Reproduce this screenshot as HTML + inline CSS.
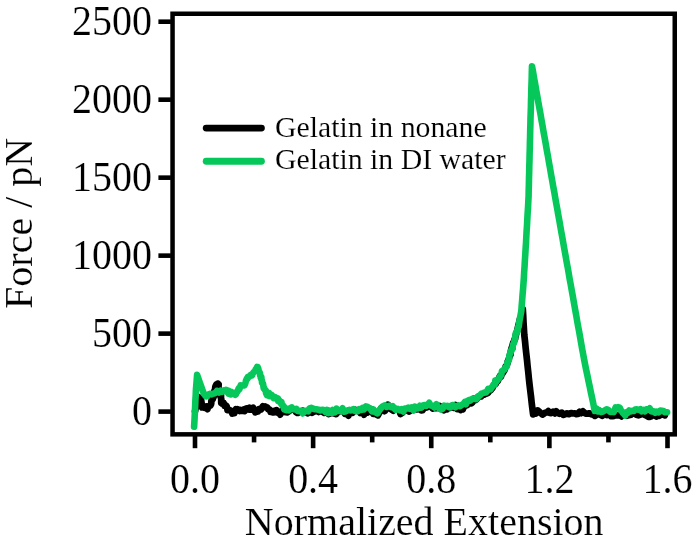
<!DOCTYPE html>
<html><head><meta charset="utf-8"><title>Force vs Normalized Extension</title>
<style>
html,body{margin:0;padding:0;background:#fff;}
body{width:695px;height:545px;overflow:hidden;}
svg{display:block;}
text{font-family:"Liberation Serif",serif;fill:#000;stroke:#fff;stroke-width:0.15px;}
#w{width:695px;height:545px;will-change:transform;background:#fff;}
.t40{font-size:40px;}
.t30{font-size:29.8px;}
</style></head><body>
<div id="w">
<svg width="695" height="545" viewBox="0 0 695 545">
<rect x="0" y="0" width="695" height="545" fill="#fff"/>
<polyline fill="none" stroke="#000" stroke-width="6.7" stroke-linejoin="round" stroke-linecap="round" points="195.0,411.5 196.5,404.0 198.5,397.0 200.9,398.5 201.6,403.0 202.2,407.5 203.4,406.8 204.5,406.9 205.0,407.8 206.3,406.5 207.5,409.2 207.9,407.0 208.9,406.0 209.7,405.9 210.4,405.5 211.1,404.0 211.3,403.0 211.3,401.5 211.5,400.6 212.4,399.6 212.8,399.0 213.0,398.3 213.2,396.3 213.6,397.3 213.9,395.2 214.3,395.1 214.2,392.9 214.3,390.9 214.6,390.4 215.0,389.3 215.1,389.1 215.3,386.8 215.6,386.1 216.5,384.3 217.5,384.4 217.7,383.6 218.0,384.8 218.7,384.4 218.5,386.3 218.8,388.7 219.2,389.8 219.8,391.6 219.8,392.6 220.1,391.3 220.1,392.0 220.6,394.2 220.4,396.0 221.0,395.3 221.0,398.4 221.3,399.3 221.2,399.2 221.2,402.7 221.2,402.2 222.1,403.5 222.9,402.8 223.6,402.8 224.6,405.9 225.3,405.8 226.2,405.6 226.9,406.9 227.5,410.1 228.5,410.0 229.4,410.3 230.3,410.4 230.6,410.5 231.6,411.1 232.3,413.6 233.2,413.3 234.4,413.1 234.9,411.0 235.8,409.3 236.5,410.0 237.4,409.1 238.8,409.9 239.6,410.9 240.5,409.9 241.8,410.9 242.9,411.0 243.8,409.5 244.7,411.1 245.5,409.1 246.6,408.3 247.7,408.9 248.7,409.5 249.6,407.8 250.6,409.5 251.5,408.4 252.4,408.3 253.1,407.7 253.9,410.2 254.5,410.0 255.3,412.3 256.3,410.1 257.2,411.6 258.0,411.5 259.0,409.1 260.3,409.6 261.0,409.6 262.2,407.5 262.9,406.3 264.2,407.1 265.1,406.4 266.3,407.0 267.4,407.5 268.2,409.3 269.4,409.5 270.1,410.3 270.5,411.8 271.3,410.9 272.1,412.1 272.9,412.5 273.8,412.5 275.1,410.7 276.1,410.9 276.7,410.2 277.6,412.6 278.1,411.8 279.2,413.6 279.8,413.6 280.2,414.7 281.0,412.9 281.9,412.4 282.4,411.9 282.9,409.9 283.5,409.3 284.0,408.9 285.3,412.1 286.3,410.3 287.4,412.3 289.4,410.9 291.1,409.3 293.1,409.6 294.6,409.4 295.8,411.9 297.4,413.0 298.5,412.6 299.9,411.6 301.0,411.5 302.6,410.7 303.9,412.2 305.2,411.7 307.6,413.3 309.7,411.3 311.0,412.1 312.0,412.9 313.9,411.5 315.0,411.4 316.4,410.3 318.5,412.0 320.3,411.1 321.7,411.2 322.6,411.9 324.2,412.8 325.4,411.5 326.9,412.1 328.4,414.0 329.9,413.5 331.7,413.0 333.5,411.4 334.7,413.6 336.0,414.1 338.0,412.0 339.8,411.2 342.0,410.4 343.9,411.4 345.0,413.8 346.5,413.3 348.4,415.6 349.6,413.0 351.4,412.0 352.5,412.8 353.8,411.2 354.9,409.7 356.7,410.8 357.9,411.0 359.6,411.3 360.4,413.0 362.5,410.9 364.1,414.7 365.4,411.8 367.4,412.7 369.0,410.8 370.0,410.5 371.7,409.3 372.4,412.1 373.2,413.8 374.2,413.7 376.1,414.3 377.9,415.3 378.8,413.7 379.5,412.4 380.2,410.1 381.4,408.0 382.9,408.5 384.7,411.1 386.5,408.8 388.0,404.6 389.6,408.1 391.0,409.2 393.3,410.7 395.0,408.7 396.5,409.6 398.2,410.0 399.5,410.7 400.5,414.1 401.9,413.1 403.8,411.1 405.3,410.4 406.7,409.2 409.1,411.5 411.2,410.0 413.0,409.5 415.0,409.2 416.5,409.5 418.2,409.1 419.5,409.1 421.2,410.5 422.4,410.3 424.1,407.8 425.3,407.6 426.9,407.4 428.1,405.6 429.6,405.3 431.1,406.6 432.6,408.5 434.4,407.9 436.7,408.2 437.8,406.9 439.6,405.9 441.0,409.0 442.3,408.9 443.9,410.3 445.9,408.6 447.0,409.2 448.3,407.7 449.7,408.0 451.4,406.9 453.8,407.8 455.5,405.1 457.3,409.1 458.7,406.0 460.7,409.9 461.9,408.2 462.8,409.3 463.9,406.9 464.9,405.9 466.1,402.3 467.2,405.2 468.5,401.5 469.9,402.8 471.3,403.3 472.4,402.4 473.5,400.1 474.0,398.8 475.2,400.1 476.5,399.3 478.2,396.6 479.5,396.5 481.3,396.4 482.5,394.9 483.9,394.7 485.2,394.0 486.8,393.6 488.1,392.7 489.1,391.1 490.9,390.1 491.5,388.9 492.5,388.0 493.1,386.2 494.5,384.5 495.8,383.8 496.5,380.6 497.8,381.1 498.8,378.6 499.9,376.0 501.0,376.5 501.9,373.7 502.4,373.8 503.1,372.1 504.3,370.7 504.8,369.2 505.6,366.7 506.3,366.0 506.9,364.9 507.5,363.0 507.6,361.9 508.3,360.3 508.7,359.4 509.6,356.1 509.9,355.6 510.6,354.6 510.9,350.8 511.5,348.3 512.2,348.9 512.2,346.3 513.1,343.3 513.2,342.7 513.9,341.7 514.5,339.5 515.0,339.4 515.5,336.3 517.2,330.4 518.6,324.5 520.0,318.7 521.6,318.0 522.2,313.5 522.8,309.0 523.2,315.5 523.5,322.0 523.9,328.5 524.3,335.0 525.0,341.2 525.6,347.5 526.3,353.8 527.0,360.0 527.6,366.2 528.3,372.5 528.9,378.8 529.6,385.0 530.3,390.8 531.0,396.5 531.6,402.2 532.3,408.0 533.1,414.4 534.1,412.5 535.8,413.6 536.9,412.6 537.7,410.4 539.2,411.6 540.8,413.2 542.5,414.5 543.7,413.8 545.0,412.8 546.8,412.4 548.2,411.1 549.9,412.9 551.2,413.1 553.0,411.8 554.7,413.4 556.2,411.2 557.7,412.8 559.5,413.8 561.9,412.6 563.4,414.9 565.5,414.1 567.0,413.3 568.8,414.2 571.0,413.0 572.5,413.5 574.8,413.4 576.4,414.1 577.9,414.0 579.5,411.9 581.2,413.2 583.0,411.4 585.1,413.3 586.1,413.7 587.8,413.7 589.3,413.3 590.3,413.6 591.5,414.3 593.2,414.5 594.9,415.9 596.3,415.0 597.8,414.4 599.4,413.2 601.2,415.3 602.4,415.7 603.7,412.6 605.1,413.3 606.9,415.0 608.1,414.6 609.3,413.9 611.0,416.1 612.6,416.2 614.1,416.0 615.6,415.1 617.8,415.5 619.6,414.7 621.4,416.4 622.8,413.8 623.7,414.1 625.4,413.4 627.1,415.7 628.2,415.2 629.6,415.1 631.0,414.7 632.9,413.1 634.6,413.0 636.5,414.8 638.4,415.3 640.6,414.6 641.7,413.8 643.5,414.3 645.1,415.1 646.8,415.7 648.3,416.8 650.1,416.8 651.6,416.1 652.7,415.5 654.7,414.8 656.5,416.5 658.2,415.0 659.3,415.8 660.8,414.8 662.8,414.2 664.8,415.3"/>
<polyline fill="none" stroke="#06c85a" stroke-width="6.6" stroke-linejoin="round" stroke-linecap="round" points="194.1,426.8 194.6,418.0 194.9,411.5 195.2,405.0 195.4,400.0 195.7,395.0 195.9,390.0 196.3,384.9 196.7,379.9 197.1,374.8 200.0,383.0 202.8,390.8 203.2,391.9 203.8,393.9 203.9,393.7 204.9,394.8 205.5,396.0 206.2,396.4 207.4,396.0 208.2,394.6 209.5,394.1 210.6,393.7 211.7,394.3 212.6,393.8 213.8,393.6 214.6,393.4 215.8,392.5 217.0,390.8 217.7,390.9 219.0,392.5 219.6,391.5 220.6,390.6 221.9,391.8 222.8,390.8 223.9,390.4 225.1,391.2 226.2,389.9 227.5,390.6 228.4,393.5 229.1,390.9 230.7,394.4 231.5,392.0 232.9,393.9 233.9,393.9 235.2,394.8 235.8,394.3 236.0,394.3 236.4,392.9 237.4,390.9 237.5,391.7 238.4,389.2 238.7,388.4 239.4,389.2 240.6,385.4 241.2,386.2 241.7,386.0 242.9,385.3 243.5,385.2 244.5,385.4 245.3,383.3 245.5,382.6 246.0,380.5 246.5,379.4 247.0,378.3 247.3,379.1 247.9,377.0 248.9,376.7 249.5,376.7 250.3,375.3 251.2,374.7 252.1,375.2 252.6,373.6 253.8,372.2 254.4,371.6 255.0,371.3 255.7,369.3 256.4,368.7 257.1,366.9 257.7,367.0 258.0,368.2 258.4,368.9 258.8,371.4 259.2,371.7 259.7,372.5 260.0,373.5 260.1,375.2 260.7,376.0 260.7,377.5 261.4,377.4 261.4,379.4 261.6,380.1 262.0,380.4 262.0,382.5 262.2,382.3 262.9,383.4 263.2,384.8 263.4,386.2 263.6,387.6 263.7,388.2 264.3,388.1 264.8,389.9 265.3,390.0 266.0,390.9 266.0,392.9 266.9,395.1 268.0,394.1 269.0,393.0 269.6,396.1 270.9,395.9 271.8,395.1 272.7,396.8 273.6,398.1 275.1,397.2 275.7,397.8 277.3,399.5 278.0,398.6 278.2,401.0 279.3,400.4 280.0,402.1 280.7,403.2 281.4,401.9 282.0,405.3 283.1,405.5 284.2,409.3 285.0,407.6 286.2,410.1 287.7,410.0 289.0,410.4 290.4,408.0 291.9,407.4 293.1,409.3 294.7,409.5 296.4,408.8 297.6,411.0 299.4,411.1 301.1,410.9 302.9,413.4 304.8,410.8 306.4,411.0 308.2,411.4 309.5,408.4 311.2,407.9 313.0,408.6 314.6,409.2 316.4,409.3 318.4,409.7 320.3,410.4 322.0,409.7 323.6,410.0 325.4,411.9 327.0,409.9 328.2,413.1 329.5,410.8 331.1,412.8 332.7,410.0 333.6,412.6 334.9,412.4 336.5,408.6 338.1,410.8 339.7,411.1 341.1,410.3 342.5,408.3 343.7,411.7 345.6,411.4 347.4,410.4 349.3,409.9 351.0,410.5 353.4,409.1 355.1,411.0 356.7,411.1 358.2,411.1 359.2,409.1 361.1,409.9 362.4,408.0 364.0,409.2 365.8,406.4 367.3,406.7 368.9,407.7 370.7,409.1 372.0,411.4 373.4,409.4 375.3,412.1 377.5,413.4 378.5,411.4 380.1,409.3 381.6,407.4 382.9,406.2 385.0,405.3 386.8,407.0 389.1,405.7 391.0,407.1 392.7,406.1 394.0,408.3 395.9,409.9 397.8,408.9 399.9,410.4 401.4,409.3 403.4,411.5 404.8,408.5 406.4,408.6 408.2,407.6 409.9,408.8 411.4,407.6 413.6,410.4 414.9,406.6 416.7,408.4 418.1,408.4 419.8,405.8 421.4,407.6 423.2,405.4 424.3,405.0 426.3,405.9 428.0,404.2 429.2,402.8 430.8,405.6 432.7,406.0 434.2,407.4 436.3,404.3 437.9,406.5 439.3,408.8 441.0,409.5 442.7,408.7 444.1,405.7 445.9,406.3 447.4,405.8 449.1,407.2 450.5,407.4 451.6,405.4 453.1,405.0 455.3,407.3 457.0,406.1 458.4,405.4 460.1,406.2 462.6,404.3 463.5,403.8 465.0,401.9 466.0,404.2 467.1,401.4 468.8,400.1 470.1,400.7 471.5,399.2 473.0,398.6 474.7,399.0 476.1,399.1 477.9,396.9 479.9,395.3 481.6,393.6 483.3,393.0 484.3,392.6 485.9,392.5 487.2,391.0 488.2,388.8 489.7,389.2 490.4,389.4 492.1,386.8 492.7,386.1 493.8,384.2 494.8,384.2 495.3,380.7 496.4,381.9 497.8,379.6 498.9,378.4 499.6,376.9 500.7,375.8 501.4,374.5 502.0,370.9 503.1,370.4 504.0,369.9 505.0,368.3 505.4,367.6 506.8,366.4 507.3,362.5 508.0,361.5 508.7,360.7 509.1,359.1 509.3,356.9 509.5,354.7 510.5,353.3 510.8,352.0 511.3,349.9 511.6,349.6 512.4,348.6 512.9,345.1 513.7,343.2 514.1,342.7 514.5,340.3 514.7,339.9 515.1,337.7 515.7,333.6 516.4,333.6 516.9,332.3 517.2,330.4 517.7,330.7 518.0,326.9 518.7,326.8 519.4,321.0 520.4,316.0 521.3,311.0 521.7,305.4 522.2,299.8 522.6,294.2 523.1,288.6 523.5,283.0 523.9,277.3 524.2,271.6 524.6,265.9 524.9,260.1 525.3,254.4 525.6,248.7 526.0,243.0 526.3,237.1 526.6,231.2 527.0,225.4 527.3,219.5 527.6,213.6 528.0,207.8 528.3,201.9 528.6,196.0 528.7,190.0 528.9,184.0 529.0,178.0 529.2,172.0 529.3,166.0 529.5,160.0 529.6,154.0 529.8,148.0 529.9,142.0 530.1,136.0 530.2,130.0 530.4,124.2 530.5,118.4 530.7,112.6 530.9,106.8 531.0,101.0 531.2,95.2 531.3,89.4 531.5,83.6 531.7,77.8 531.8,72.0 532.0,66.2 533.1,72.2 534.1,78.2 535.2,84.2 536.2,90.2 537.3,96.1 538.3,102.1 539.4,108.1 540.5,114.1 541.5,120.1 542.6,126.1 543.6,132.1 544.7,138.1 545.8,144.1 546.8,150.1 547.9,156.0 548.9,162.0 550.0,168.0 551.0,174.0 552.1,180.0 553.1,185.8 554.2,191.7 555.2,197.5 556.2,203.3 557.3,209.2 558.3,215.0 559.4,220.8 560.4,226.7 561.4,232.5 562.5,238.3 563.5,244.2 564.5,250.0 565.6,255.8 566.6,261.7 567.7,267.5 568.7,273.3 569.7,279.2 570.8,285.0 571.8,290.8 572.9,296.7 573.9,302.5 574.9,308.3 576.0,314.2 577.0,320.0 578.0,325.7 579.1,331.4 580.1,337.1 581.1,342.9 582.1,348.6 583.2,354.3 584.2,360.0 585.2,365.0 586.2,370.0 587.4,375.5 588.5,381.0 589.7,386.5 590.8,392.0 592.0,397.5 593.4,404.1 594.7,410.8 596.3,408.4 597.7,411.4 599.3,410.2 601.1,412.1 603.0,411.6 604.7,410.5 606.6,409.3 608.6,410.3 610.3,412.0 612.4,411.8 613.8,412.1 615.6,407.5 616.6,408.5 618.2,407.1 618.8,407.4 619.8,407.8 620.8,410.3 621.7,411.0 622.9,412.9 624.1,414.1 625.2,415.6 626.9,412.1 627.7,412.7 629.1,410.5 631.0,411.4 632.3,410.7 633.7,411.0 635.3,409.5 636.8,409.3 638.9,409.9 640.3,409.2 641.8,411.3 643.4,410.0 645.1,411.3 646.6,409.2 648.5,409.5 649.7,408.3 651.5,411.5 653.0,411.1 655.1,412.8 656.4,411.6 658.5,412.3 660.3,410.5 661.7,410.9 663.6,411.1 665.1,412.3 667.1,412.2"/>
<rect x="172.55" y="13.75" width="502.20" height="420.60" fill="none" stroke="#000" stroke-width="4.50"/>
<rect x="158.4" y="409.30" width="12.5" height="4.6" fill="#000"/>
<text transform="translate(152,425.00) scale(1,1.06)" text-anchor="end" class="t40">0</text>
<rect x="158.4" y="331.32" width="12.5" height="4.6" fill="#000"/>
<text transform="translate(152,347.02) scale(1,1.06)" text-anchor="end" class="t40">500</text>
<rect x="158.4" y="253.34" width="12.5" height="4.6" fill="#000"/>
<text transform="translate(152,269.04) scale(1,1.06)" text-anchor="end" class="t40">1000</text>
<rect x="158.4" y="175.36" width="12.5" height="4.6" fill="#000"/>
<text transform="translate(152,191.06) scale(1,1.06)" text-anchor="end" class="t40">1500</text>
<rect x="158.4" y="97.38" width="12.5" height="4.6" fill="#000"/>
<text transform="translate(152,113.08) scale(1,1.06)" text-anchor="end" class="t40">2000</text>
<rect x="158.4" y="19.40" width="12.5" height="4.6" fill="#000"/>
<text transform="translate(152,35.10) scale(1,1.06)" text-anchor="end" class="t40">2500</text>
<rect x="192.70" y="436" width="4.6" height="12.2" fill="#000"/>
<text transform="translate(195.00,492.7) scale(1,1.06)" text-anchor="middle" class="t40">0.0</text>
<rect x="251.76" y="436" width="4.6" height="6.4" fill="#000"/>
<rect x="310.82" y="436" width="4.6" height="12.2" fill="#000"/>
<text transform="translate(313.12,492.7) scale(1,1.06)" text-anchor="middle" class="t40">0.4</text>
<rect x="369.89" y="436" width="4.6" height="6.4" fill="#000"/>
<rect x="428.95" y="436" width="4.6" height="12.2" fill="#000"/>
<text transform="translate(431.25,492.7) scale(1,1.06)" text-anchor="middle" class="t40">0.8</text>
<rect x="488.01" y="436" width="4.6" height="6.4" fill="#000"/>
<rect x="547.08" y="436" width="4.6" height="12.2" fill="#000"/>
<text transform="translate(549.38,492.7) scale(1,1.06)" text-anchor="middle" class="t40">1.2</text>
<rect x="606.14" y="436" width="4.6" height="6.4" fill="#000"/>
<rect x="665.20" y="436" width="4.6" height="12.2" fill="#000"/>
<text transform="translate(667.50,492.7) scale(1,1.06)" text-anchor="middle" class="t40">1.6</text>
<text transform="translate(424.2,534.8) scale(1,1.02)" text-anchor="middle" class="t40">Normalized Extension</text>
<text transform="translate(31.5,223.4) rotate(-90) scale(1,1.02)" text-anchor="middle" class="t40">Force / pN</text>
<line x1="206.2" y1="128.1" x2="261.4" y2="128.1" stroke="#000" stroke-width="6.9" stroke-linecap="round"/>
<line x1="206.2" y1="161.3" x2="261.4" y2="161.3" stroke="#06c85a" stroke-width="6.9" stroke-linecap="round"/>
<text x="274.9" y="137" class="t30">Gelatin in nonane</text>
<text x="274.9" y="169" class="t30">Gelatin in DI water</text>
</svg>
</div>
</body></html>
